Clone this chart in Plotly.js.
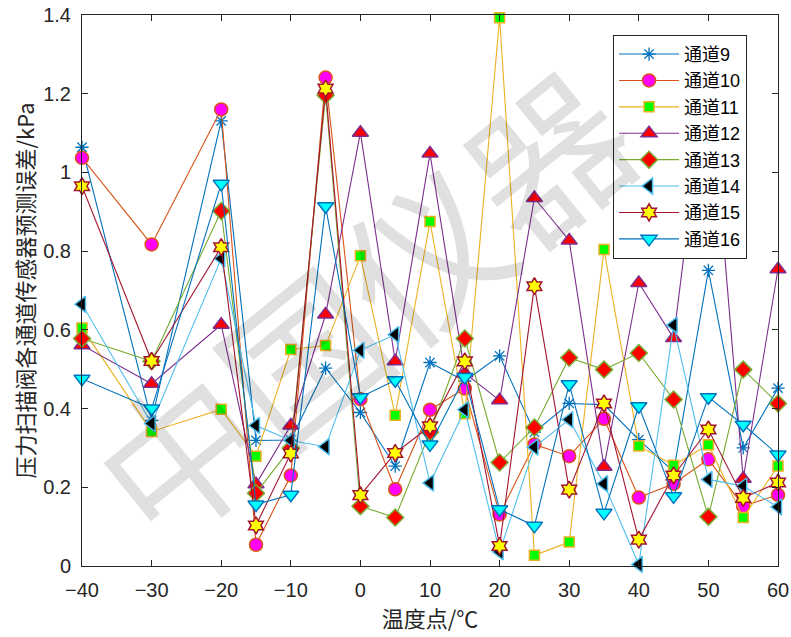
<!DOCTYPE html>
<html>
<head>
<meta charset="utf-8">
<script src="https://cdn.plot.ly/plotly-3.0.1.min.js"></script>
<style>html,body{margin:0;padding:0;background:#fff;}#chart{width:791px;height:637px;}</style>
</head>
<body>
<div id="chart"></div>
<script>
const temps = [-40,-30,-20,-15,-10,-5,0,5,10,15,20,25,30,35,40,45,50,55,60];
const names = ['通道9','通道10','通道11','通道12','通道13','通道14','通道15','通道16'];
const ch9  = [1.064,0.37,1.131,0.319,0.32,0.503,0.39,0.254,0.517,0.47,0.534,0.34,0.413,0.41,0.321,0.24,0.751,0.30,0.452];
const ch10 = [1.037,0.817,1.16,0.054,0.230,1.241,0.424,0.195,0.397,0.451,0.131,0.309,0.279,0.374,0.174,0.209,0.271,0.152,0.181];
const ch11 = [0.605,0.342,0.398,0.279,0.55,0.56,0.788,0.383,0.875,0.387,1.393,0.027,0.061,0.804,0.305,0.256,0.308,0.123,0.254];
const ch12 = [0.561,0.463,0.613,0.208,0.357,0.639,1.101,0.52,1.048,0.49,0.421,0.935,0.827,0.252,0.719,0.579,1.29,0.222,0.754];
const ch13 = [0.578,0.52,0.902,0.185,0.30,1.196,0.152,0.123,0.34,0.578,0.263,0.352,0.529,0.499,0.541,0.423,0.125,0.499,0.413];
const ch14 = [0.665,0.362,0.781,0.357,0.319,0.303,0.548,0.588,0.211,0.397,0.036,0.302,0.372,0.209,0.004,0.612,0.22,0.203,0.15];
const ch15 = [0.965,0.521,0.81,0.103,0.286,1.213,0.18,0.287,0.355,0.52,0.051,0.711,0.194,0.413,0.067,0.230,0.347,0.173,0.212];
const ch16 = [0.476,0.40,0.971,0.156,0.181,0.914,0.429,0.472,0.309,0.48,0.144,0.102,0.462,0.135,0.406,0.177,0.429,0.359,0.283];
const xTitle = '温度点/℃';
const yTitle = '压力扫描阀各通道传感器预测误差/kPa';
const watermark = '中国仪器';

const series = [ch9,ch10,ch11,ch12,ch13,ch14,ch15,ch16];
const styles = [
  {line:'#0072BD', sym:'asterisk-open', fill:'#0072BD', edge:'#0072BD', size:11, lw:1.3},
  {line:'#D95319', sym:'circle', fill:'#FF00FF', edge:'#D95319', size:13, lw:1.5},
  {line:'#EDB120', sym:'square', fill:'#00FF00', edge:'#EDB120', size:10, lw:1.5},
  {line:'#7E2F8E', sym:'triangle-up', fill:'#FF0000', edge:'#7E2F8E', size:14, lw:1.5},
  {line:'#77AC30', sym:'diamond', fill:'#FF0000', edge:'#77AC30', size:13, lw:1.5},
  {line:'#4DBEEE', sym:'triangle-left', fill:'#000000', edge:'#4DBEEE', size:14, lw:1.5},
  {line:'#A2142F', sym:'hexagram', fill:'#FFFF00', edge:'#A2142F', size:13, lw:1.5},
  {line:'#0072BD', sym:'triangle-down', fill:'#00FFFF', edge:'#0072BD', size:14, lw:1.5}
];

const traces = series.map((ys,i)=>({
  type:'scatter', mode:'lines+markers', x:temps, y:ys, name:names[i],
  cliponaxis:false,
  line:{color:styles[i].line, width:1.1},
  marker:{symbol:styles[i].sym, size:styles[i].size, color:styles[i].fill,
          line:{color:styles[i].edge, width:styles[i].lw}}
}));

const fontFam = 'Liberation Sans, Arial, Noto Sans CJK SC, sans-serif';
const layout = {
  width:791, height:637,
  paper_bgcolor:'#ffffff', plot_bgcolor:'#ffffff',
  margin:{l:82, r:13, t:15, b:71},
  font:{family:fontFam, color:'#262626', size:20},
  showlegend:true,
  legend:{x:0.763, y:0.964, xanchor:'left', yanchor:'top',
          bgcolor:'#ffffff', bordercolor:'#262626', borderwidth:1,
          font:{family:fontFam, size:18, color:'#000000'}, itemwidth:60,
          tracegroupgap:0},
  xaxis:{range:[-40,60], tickvals:[-40,-30,-20,-10,0,10,20,30,40,50,60],
         ticks:'inside', ticklen:6, tickcolor:'#262626', showline:true, linecolor:'#262626',
         linewidth:1, mirror:'ticks', showgrid:false, zeroline:false,
         tickfont:{size:20, color:'#262626'}, ticklabelstandoff:6,
         title:{text:xTitle, font:{size:22, color:'#262626', family:'Noto Sans CJK SC, sans-serif'}, standoff:4}},
  yaxis:{range:[0,1.4], dtick:0.2, tick0:0,
         ticks:'inside', ticklen:6, tickcolor:'#262626', showline:true, linecolor:'#262626',
         linewidth:1, mirror:'ticks', showgrid:false, zeroline:false,
         tickfont:{size:20, color:'#262626'}, ticklabelstandoff:6,
         title:{text:yTitle, font:{size:22, color:'#262626', family:'Noto Sans CJK SC, sans-serif'}, standoff:2}},
  annotations:[{text:watermark, xref:'paper', yref:'paper', x:0.40, y:0.48,
                showarrow:false, textangle:-39,
                font:{size:158, color:'rgba(0,0,0,0.12)', family:'Noto Sans CJK SC, sans-serif'}}]
};

Plotly.newPlot('chart', traces, layout, {displayModeBar:false, staticPlot:true});
</script>
</body>
</html>
